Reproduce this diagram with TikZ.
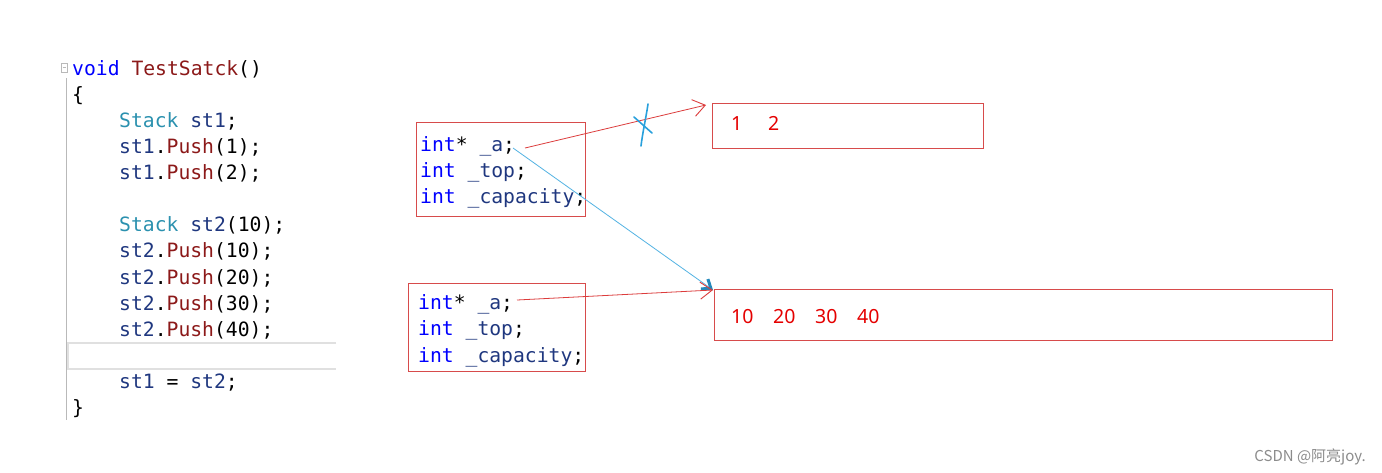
\documentclass[tikz,border=0pt]{standalone}
\usepackage{fontspec}
\setmonofont{DejaVu Sans Mono}
\newfontfamily\numfont{Noto Sans}
\newfontfamily\cjkfont{Noto Sans CJK SC}
\usetikzlibrary{arrows.meta}
\definecolor{kwblue}{RGB}{0,0,255}
\definecolor{fnred}{RGB}{140,25,25}
\definecolor{tyteal}{RGB}{43,145,175}
\definecolor{vrnavy}{RGB}{31,55,127}
\definecolor{boxred}{RGB}{215,75,75}
\definecolor{linered}{RGB}{220,60,60}
\definecolor{penblue}{RGB}{40,160,220}
\definecolor{gutter}{RGB}{185,185,185}
\newcommand\ckw[1]{\textcolor{kwblue}{#1}}
\newcommand\cfn[1]{\textcolor{fnred}{#1}}
\newcommand\cty[1]{\textcolor{tyteal}{#1}}
\newcommand\cvr[1]{\textcolor{vrnavy}{#1}}
\tikzset{
  code/.style={anchor=base west, inner sep=0pt, font=\ttfamily\fontsize{19.7}{24}\selectfont},
  membox/.style={draw=boxred, line width=0.9pt, inner sep=0pt},
  num/.style={anchor=base west, inner sep=0pt, text=red!90!black, font=\numfont\fontsize{19.5}{22}\selectfont},
  redarrow/.style={draw=linered, line width=0.8pt, -{Straight Barb[length=12pt,width=17pt,line width=0.9pt]}},
  bluearrow/.style={draw=penblue!80!white, line width=0.8pt, -{Straight Barb[length=8pt,width=12pt,line width=3pt,color=penblue!85!black]}},
}
\begin{document}
\begin{tikzpicture}[x=1pt,y=-1pt]
\useasboundingbox[fill=white] (0,0) rectangle (1382,472);
% gutter and highlight
\draw[gutter, line width=1pt] (66,78) -- (66,420);
\draw[gutter, line width=0.8pt] (61,63) rectangle (67,72);
\draw[gutter, line width=0.8pt] (62.5,67.5) -- (65.5,67.5);
\draw[black!12, line width=1.5pt] (336,343) -- (68,343) -- (68,369) -- (336,369);
% code
\node[code] (l1) at (72,75) {\ckw{void} \cfn{TestSatck}()};
\node[code] (l2) at (72,101) {\{};
\node[code] (l3) at (119,127) {\cty{Stack} \cvr{st1};};
\node[code] (l4) at (119,153) {\cvr{st1}.\cfn{Push}(1);};
\node[code] (l5) at (119,179) {\cvr{st1}.\cfn{Push}(2);};
\node[code] (l6) at (119,231) {\cty{Stack} \cvr{st2}(10);};
\node[code] (l7) at (119,257) {\cvr{st2}.\cfn{Push}(10);};
\node[code] (l8) at (119,284) {\cvr{st2}.\cfn{Push}(20);};
\node[code] (l9) at (119,310) {\cvr{st2}.\cfn{Push}(30);};
\node[code] (l10) at (119,336) {\cvr{st2}.\cfn{Push}(40);};
\node[code] (l11) at (119,388) {\cvr{st1} = \cvr{st2};};
\node[code] (l12) at (72,414) {\}};
% boxes
\node[membox, minimum width=169pt, minimum height=94pt] (b1) at (500.5,169) {};
\node[membox, minimum width=177pt, minimum height=88pt] (b2) at (496.5,327) {};
\node[membox, minimum width=271pt, minimum height=45pt] (b3) at (847.5,125.5) {};
\node[membox, minimum width=618pt, minimum height=51pt] (b4) at (1023,314.5) {};
% box text
\node[code] (f1) at (420,151) {\ckw{int}* \cvr{\_a};};
\node[code] (f2) at (420,177) {\ckw{int} \cvr{\_top};};
\node[code] (f3) at (420,203) {\ckw{int} \cvr{\_capacity};};
\node[code] (g1) at (418,309) {\ckw{int}* \cvr{\_a};};
\node[code] (g2) at (418,335) {\ckw{int} \cvr{\_top};};
\node[code] (g3) at (418,362) {\ckw{int} \cvr{\_capacity};};
% numbers
\node[num] (n1) at (731,130) {1};
\node[num] (n2) at (768,130) {2};
\node[num] (m1) at (731,323) {10};
\node[num] (m2) at (773,323) {20};
\node[num] (m3) at (815,323) {30};
\node[num] (m4) at (857,323) {40};
% connectors
\coordinate (s1) at (525,148);
\coordinate (s2) at (513,148);
\coordinate (s3) at (517,300);
\coordinate (t1) at (706,105);
\coordinate (t2) at (713,290);
\draw[redarrow] (s1) -- (t1);
\draw[bluearrow] (s2) -- (t2);
\draw[redarrow] (s3) -- (t2);
% blue cross-out mark
\draw[penblue, line width=1.6pt, line cap=round] (648,104) .. controls (646,118) and (643,130) .. (641,146);
\draw[penblue, line width=1.6pt, line cap=round] (634,117) -- (652,133);
% watermark
\node[anchor=base east, inner sep=0pt, text=black!45, font=\cjkfont\fontsize{15}{17}\selectfont] (wm) at (1366,461) {CSDN @阿亮joy.};
\end{tikzpicture}
\end{document}
